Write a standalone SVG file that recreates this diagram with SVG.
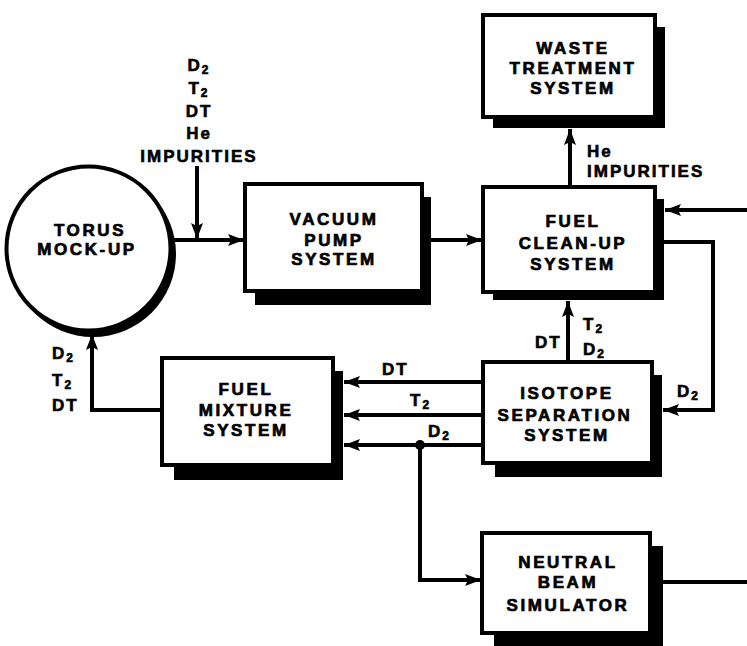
<svg xmlns="http://www.w3.org/2000/svg" width="747" height="646" viewBox="0 0 747 646">
<defs>
<marker id="ah" markerUnits="userSpaceOnUse" markerWidth="18" markerHeight="14" refX="16" refY="7" orient="auto">
<path d="M0,1 L16,7 L0,13 L3,7 z" fill="#000"/>
</marker>
<style>
.box{fill:#fff;stroke:#000;stroke-width:4}
.sh{fill:#000}
.t{font-family:"Liberation Sans",Arial,sans-serif;font-weight:bold;font-size:17px;letter-spacing:2.6px;fill:#000;stroke:#000;stroke-width:0.7;text-anchor:middle}
.l{font-family:"Liberation Sans",Arial,sans-serif;font-weight:bold;font-size:17px;letter-spacing:2px;fill:#000;stroke:#000;stroke-width:0.6}
.c{fill:none;stroke:#000;stroke-width:4}
.s{font-size:12px}
</style>
</defs>
<rect width="747" height="646" fill="#fff"/>

<g id="connectors">
<path class="c" d="M172,240 H244" marker-end="url(#ah)"/>
<path class="c" d="M197,166 V239" marker-end="url(#ah)"/>
<path class="c" d="M431,240 H482" marker-end="url(#ah)"/>
<path class="c" d="M570,187 V129" marker-end="url(#ah)"/>
<path class="c" d="M747,210 H665" marker-end="url(#ah)"/>
<path class="c" d="M664,242 H713 V410 H663" marker-end="url(#ah)"/>
<path class="c" d="M568,362 V301" marker-end="url(#ah)"/>
<path class="c" d="M483,382 H344" marker-end="url(#ah)"/>
<path class="c" d="M483,415 H344" marker-end="url(#ah)"/>
<path class="c" d="M483,445 H344" marker-end="url(#ah)"/>
<path class="c" d="M420,445 V580 H481" marker-end="url(#ah)"/>
<circle cx="420" cy="445" r="5" fill="#000"/>
<path class="c" d="M663,582 H747"/>
<path class="c" d="M162,410 H92 V334" marker-end="url(#ah)"/>
<text class="l" text-anchor="middle" x="199" y="71">D<tspan class="s" dy="3">2</tspan></text>
<text class="l" text-anchor="middle" x="199" y="94">T<tspan class="s" dy="3">2</tspan></text>
<text class="l" text-anchor="middle" x="199" y="117">DT</text>
<text class="l" text-anchor="middle" x="199" y="139">He</text>
<text class="l" text-anchor="middle" x="199" y="162">IMPURITIES</text>
<text class="l" x="587" y="157">He</text>
<text class="l" x="587" y="177">IMPURITIES</text>
<text class="l" x="535" y="348">DT</text>
<text class="l" x="583" y="330">T<tspan class="s" dy="3">2</tspan></text>
<text class="l" x="583" y="355">D<tspan class="s" dy="3">2</tspan></text>
<text class="l" x="382" y="375">DT</text>
<text class="l" x="410" y="406">T<tspan class="s" dy="3">2</tspan></text>
<text class="l" x="428" y="437">D<tspan class="s" dy="3">2</tspan></text>
<text class="l" x="677" y="397">D<tspan class="s" dy="3">2</tspan></text>
<text class="l" x="52" y="359">D<tspan class="s" dy="3">2</tspan></text>
<text class="l" x="52" y="386">T<tspan class="s" dy="3">2</tspan></text>
<text class="l" x="52" y="411">DT</text>
</g>

<g id="torus">
<circle cx="93" cy="254" r="83" fill="#000"/>
<circle cx="88.5" cy="248.5" r="82" fill="#fff" stroke="#000" stroke-width="4"/>
<text class="t" x="90" y="236">TORUS</text>
<text class="t" x="87" y="255">MOCK-UP</text>
</g>

<g id="vacuum">
<rect class="sh" x="255" y="197" width="176" height="108"/>
<rect class="box" x="245" y="184" width="177" height="107"/>
<text class="t" x="334" y="225">VACUUM</text>
<text class="t" x="334" y="246">PUMP</text>
<text class="t" x="334" y="265">SYSTEM</text>
</g>

<g id="waste">
<rect class="sh" x="493" y="27" width="172" height="101"/>
<rect class="box" x="483" y="15" width="172" height="102"/>
<text class="t" x="573" y="54">WASTE</text>
<text class="t" x="573" y="74">TREATMENT</text>
<text class="t" x="573" y="94">SYSTEM</text>
</g>

<g id="cleanup">
<rect class="sh" x="493" y="199" width="171" height="101"/>
<rect class="box" x="483" y="187" width="172" height="105"/>
<text class="t" x="573" y="227">FUEL</text>
<text class="t" x="573" y="249">CLEAN-UP</text>
<text class="t" x="573" y="270">SYSTEM</text>
</g>

<g id="isotope">
<rect class="sh" x="495" y="375" width="167" height="102"/>
<rect class="box" x="483" y="362" width="169" height="101"/>
<text class="t" x="567" y="399">ISOTOPE</text>
<text class="t" x="565" y="421">SEPARATION</text>
<text class="t" x="567" y="441">SYSTEM</text>
</g>

<g id="mixture">
<rect class="sh" x="174" y="371" width="169" height="109"/>
<rect class="box" x="162" y="358" width="171" height="107"/>
<text class="t" x="246" y="395">FUEL</text>
<text class="t" x="246" y="416">MIXTURE</text>
<text class="t" x="246" y="436">SYSTEM</text>
</g>

<g id="neutral">
<rect class="sh" x="494" y="546" width="169" height="100"/>
<rect class="box" x="482" y="533" width="168" height="100"/>
<text class="t" x="568" y="568">NEUTRAL</text>
<text class="t" x="568" y="588">BEAM</text>
<text class="t" x="568" y="611">SIMULATOR</text>
</g>
</svg>
